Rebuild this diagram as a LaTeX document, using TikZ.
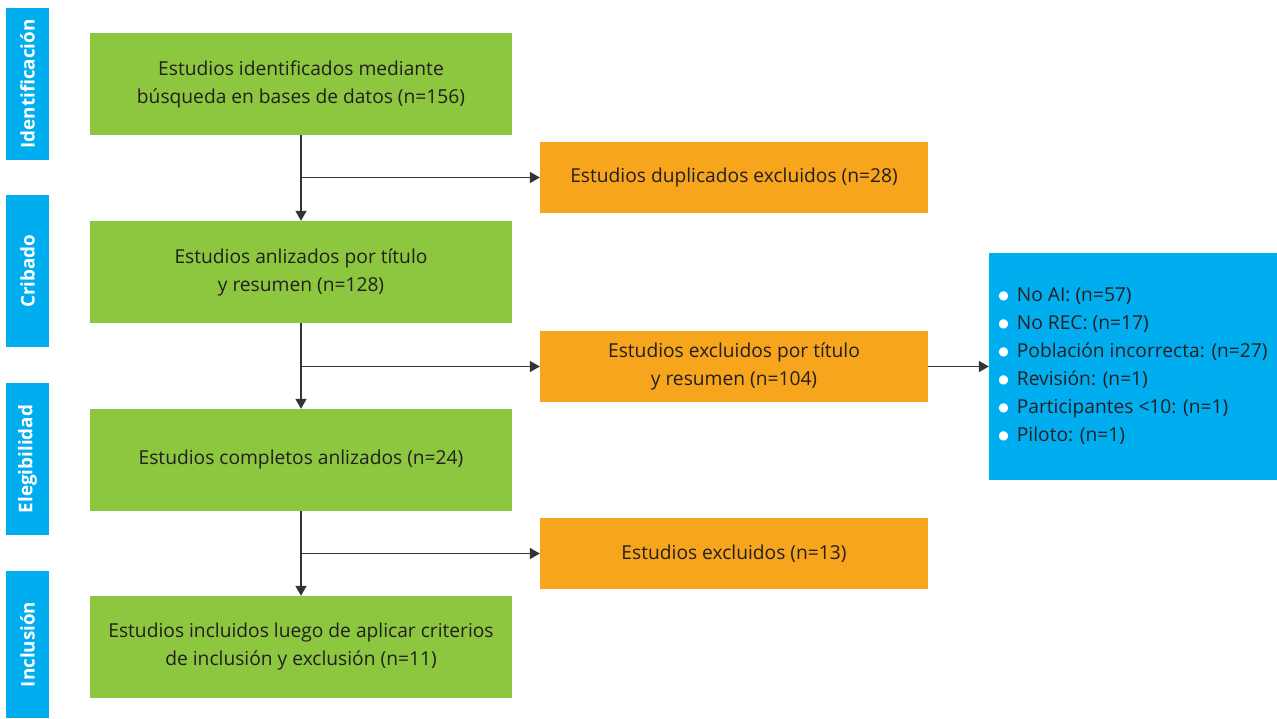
\documentclass[tikz,border=0pt]{standalone}
\usepackage{fontspec}
\setmainfont{Open Sans}
\newfontfamily\symfont{DejaVu Sans}
\usetikzlibrary{arrows.meta}

\definecolor{prGreen}{HTML}{8DC63F}
\definecolor{prOrange}{HTML}{F7A51C}
\definecolor{prBlue}{HTML}{00AEEF}
\definecolor{prText}{HTML}{231F20}
\definecolor{prLine}{HTML}{333333}

\newcommand{\blt}{\raisebox{2.5pt}{\symfont\fontsize{12}{12}\selectfont\textcolor{white}{●}}\hspace{8pt}}

\tikzset{
  phase/.style={fill=prBlue,rotate=90,minimum width=152pt,minimum height=43pt,
                inner sep=0pt,text=white,font=\fontsize{18.8}{20}\selectfont\bfseries},
  stage/.style={fill=prGreen,minimum width=422pt,minimum height=102pt,inner sep=0pt,
                align=center,text=prText},
  drop/.style={fill=prOrange,minimum width=388pt,minimum height=71pt,inner sep=0pt,
               align=center,text=prText},
  reasons/.style={fill=prBlue,minimum width=288pt,minimum height=227pt,inner sep=0pt,
                  align=left,text=prText}
}

\begin{document}
\begin{tikzpicture}[x=1pt,y=-1pt,font=\fontsize{19.2}{28}\selectfont]
\useasboundingbox (0,0) rectangle (1277,718);

\begin{scope}
    \node[phase] (PId) at (27.5,84) {Identificación};
    \node[phase] (PCr) at (27.5,271) {Cribado};
    \node[phase] (PEl) at (27.5,459) {Elegibilidad};
    \node[phase,minimum width=147pt] (PIn) at (27.5,644.5) {Inclusión};
\end{scope}

\begin{scope}
    \node[stage] (SId) at (301,84) {Estudios identificados mediante\\búsqueda en bases de datos (n=156)};
    \node[stage] (SCr) at (301,272) {Estudios anlizados por título\\y resumen (n=128)};
    \node[stage] (SEl) at (301,460) {Estudios completos anlizados (n=24)};
    \node[stage] (SIn) at (301,647) {Estudios incluidos luego de aplicar criterios\\de inclusión y exclusión (n=11)};

    \node[drop] (DDup) at (734,177.5) {Estudios duplicados excluidos (n=28)};
    \node[drop] (DTit) at (734,366.5) {Estudios excluidos por título\\y resumen (n=104)};
    \node[drop] (DFull) at (734,553.5) {Estudios excluidos (n=13)};

    \node[reasons] (RTit) at (1133,366.5) {\blt No AI: (n=57)\\
        \blt No REC: (n=17)\\
        \blt Población incorrecta: (n=27)\\
        \blt Revisión: (n=1)\\
        \blt Participantes <10: (n=1)\\
        \blt Piloto: (n=1)};
\end{scope}

\begin{scope}[every edge/.style={draw=prLine,line width=1.4pt},
              >={Triangle[width=11pt,length=10pt]}]
    \path [->] (SId) edge (SCr);
    \path [->] (SCr) edge (SEl);
    \path [->] (SEl) edge (SIn);

    \path [->] (SId.south |- DDup) edge (DDup);
    \path [->] (SCr.south |- DTit) edge (DTit);
    \path [->] (SEl.south |- DFull) edge (DFull);

    \path [->] (DTit.east) edge (DTit.east -| RTit.west);
\end{scope}
\end{tikzpicture}
\end{document}
